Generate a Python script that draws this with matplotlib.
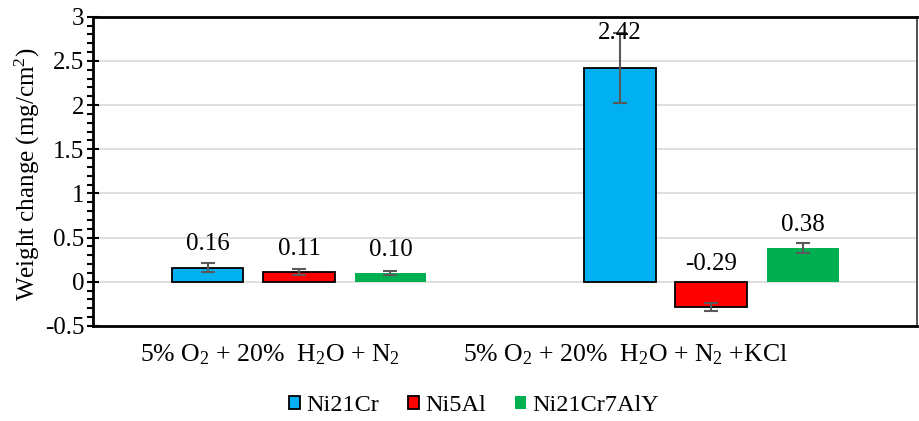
import matplotlib
matplotlib.use("Agg")
import matplotlib.pyplot as plt
import matplotlib.transforms as mtransforms
import numpy as np
from matplotlib.ticker import MultipleLocator, FuncFormatter
from matplotlib.patches import Patch

plt.rcParams['font.family'] = ['Liberation Serif', 'DejaVu Serif']
plt.rcParams['mathtext.fontset'] = 'custom'
plt.rcParams['mathtext.rm'] = 'Liberation Serif'
plt.rcParams['mathtext.it'] = 'Liberation Serif:italic'
plt.rcParams['mathtext.bf'] = 'Liberation Serif:bold'

categories = ["5% O$_2$ + 20%  H$_2$O + N$_2$", "5% O$_2$ + 20%  H$_2$O + N$_2$ +KCl"]
series = ["Ni21Cr", "Ni5Al", "Ni21Cr7AlY"]
ni21cr = [0.16, 2.42]
ni5al = [0.11, -0.29]
ni21cr7aly = [0.10, 0.38]
ni21cr_err = [0.05, 0.40]
ni5al_err = [0.035, 0.045]
ni21cr7aly_err = [0.025, 0.06]
labels_ni21cr = ["0.16", "2.42"]
labels_ni5al = ["0.11", "-0.29"]
labels_ni21cr7aly = ["0.10", "0.38"]

colors = ["#00B0F0", "#FF0000", "#00B050"]
edges = ["black", "black", "none"]

fig = plt.figure(figsize=(9.2, 4.21), dpi=100)
ax = fig.add_axes([0.101, 0.226, 0.896, 0.734])

x = np.arange(len(categories))
offsets = [-0.222, 0.0, 0.222]
width = 0.174
vals = [ni21cr, ni5al, ni21cr7aly]
errs = [ni21cr_err, ni5al_err, ni21cr7aly_err]
labs = [labels_ni21cr, labels_ni5al, labels_ni21cr7aly]

for i in range(3):
    ax.bar(x + offsets[i], vals[i], width, color=colors[i],
           edgecolor=edges[i], linewidth=1.3, zorder=3)
    ax.errorbar(x + offsets[i], vals[i], yerr=errs[i], fmt='none',
                ecolor='#595959', elinewidth=1.5, capsize=5, capthick=1.5, zorder=4)
    for xi, v, lab in zip(x + offsets[i], vals[i], labs[i]):
        if v >= 0:
            y = v + (0.14 if v < 1 else 0.27)
        else:
            y = 0.08
        ax.text(xi, y, lab, ha='center', va='bottom', fontsize=18, zorder=5)

ax.set_xlim(-0.5, 1.5)
ax.set_ylim(-0.5, 3)
ax.yaxis.set_major_locator(MultipleLocator(0.5))
ax.yaxis.set_minor_locator(MultipleLocator(0.1))
ax.yaxis.set_major_formatter(FuncFormatter(lambda v, p: ('%g' % v)))
ax.grid(axis='y', which='major', color='#D9D9D9', linewidth=1.2, zorder=0)
ax.set_axisbelow(True)

ax.set_xticks(x)
ax.set_xticklabels(categories, fontsize=18.5)
ax.tick_params(axis='x', length=0, pad=12)
ax.tick_params(axis='y', which='major', direction='inout', length=8, width=1.5, labelsize=18, pad=2)
ax.tick_params(axis='y', which='minor', direction='out', length=4, width=1.5)

# label shifts as in the reference layout
shifts_px = [-29, -86]
for lbl, s in zip(ax.get_xticklabels(), shifts_px):
    lbl.set_transform(lbl.get_transform() + mtransforms.ScaledTranslation(s / 100, 0, fig.dpi_scale_trans))

for s in ['left', 'bottom', 'top']:
    ax.spines[s].set_linewidth(2)
    ax.spines[s].set_color('black')
ax.spines['right'].set_linewidth(1.2)
ax.spines['right'].set_color('#333333')

ax.set_ylabel("Weight change (mg/cm$^2$)", fontsize=18)
ax.yaxis.set_label_coords(-0.062, 0.49)

handles = [Patch(facecolor=colors[i], edgecolor=edges[i], linewidth=1.3) for i in range(3)]
fig.legend(handles, series, loc='lower center', bbox_to_anchor=(0.515, -0.04), ncol=3,
           frameon=False, fontsize=17.5, handlelength=0.45, handleheight=0.45,
           handletextpad=0.25, columnspacing=1.2)

fig.savefig("out.png", dpi=100)
